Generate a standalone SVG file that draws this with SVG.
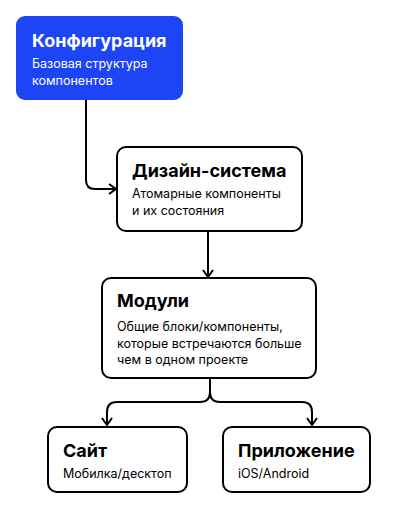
<svg xmlns="http://www.w3.org/2000/svg" width="418" height="510" viewBox="0 0 418 510">
<defs>
<style>
.box{fill:#fff;stroke:#000;stroke-width:2}
.blue{fill:#1d44f5}
.t{font-family:Inter,"Noto Sans",sans-serif;font-weight:700;font-size:18px;fill:#000}
.s{font-family:Inter,"Noto Sans",sans-serif;font-size:12.5px;fill:#000}
.w{fill:#fff}
.c{fill:none;stroke:#000;stroke-width:2}
</style>
<marker id="a" viewBox="0 0 12 12" refX="10" refY="6" markerWidth="12" markerHeight="12" markerUnits="userSpaceOnUse" orient="auto">
<path d="M3,1 L10,6 L3,11" fill="none" stroke="#000" stroke-width="2"/>
</marker>
</defs>
<rect width="418" height="510" fill="#fff"/>
<g id="connectors">
<path class="c" d="M86,100 V180 Q86,189 95,189 H116" marker-end="url(#a)"/>
<path class="c" d="M208,231 V277" marker-end="url(#a)"/>
<path class="c" d="M210,378 V392 Q210,402 200,402 H117 Q107,402 107,412 V425" marker-end="url(#a)"/>
<path class="c" d="M210,378 V392 Q210,402 220,402 H302 Q312,402 312,412 V425" marker-end="url(#a)"/>
</g>
<g id="config">
<rect class="blue" x="16" y="16" width="167" height="84" rx="9"/>
<text class="t w" x="32" y="47">Конфигурация</text>
<text class="s w" x="32" y="68">Базовая структура</text>
<text class="s w" x="32" y="85">компонентов</text>
</g>
<g id="design">
<rect class="box" x="117" y="147" width="185" height="84" rx="9"/>
<text class="t" x="132" y="177">Дизайн-система</text>
<text class="s" x="132" y="198">Атомарные компоненты</text>
<text class="s" x="132" y="215">и их состояния</text>
</g>
<g id="modules">
<rect class="box" x="102" y="278" width="214" height="100" rx="9"/>
<text class="t" x="117" y="307">Модули</text>
<text class="s" x="117" y="331">Общие блоки/компоненты,</text>
<text class="s" x="117" y="348">которые встречаются больше</text>
<text class="s" x="117" y="364">чем в одном проекте</text>
</g>
<g id="site">
<rect class="box" x="48" y="427" width="139" height="65" rx="9"/>
<text class="t" x="63" y="457">Сайт</text>
<text class="s" x="63" y="478">Мобилка/десктоп</text>
</g>
<g id="app">
<rect class="box" x="223" y="427" width="147" height="65" rx="9"/>
<text class="t" x="238" y="457">Приложение</text>
<text class="s" x="238" y="478">iOS/Android</text>
</g>
</svg>
